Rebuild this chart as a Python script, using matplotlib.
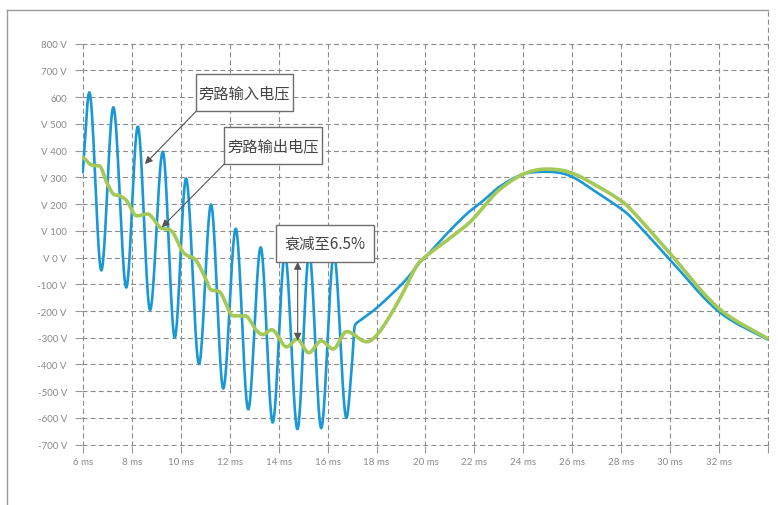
import numpy as np
import matplotlib
matplotlib.use("Agg")
import matplotlib.pyplot as plt
from matplotlib.lines import Line2D
from matplotlib.patches import Rectangle

plt.rcParams['font.family'] = ['Noto Sans CJK SC', 'DejaVu Sans']

# 旁路输入电压 (blue) (ms, V)
blue_t = [6.0, 6.27, 6.76, 7.25, 7.78, 8.25, 8.75, 9.27, 9.76, 10.22, 10.75,
          11.24, 11.74, 12.25, 12.76, 13.27, 13.76, 14.26, 14.77, 15.25, 15.74,
          16.26, 16.77, 16.98, 17.10, 17.17, 17.35, 17.87, 18.55, 19.23, 19.77,
          20.05, 20.86, 21.68, 22.36, 23.04, 23.99, 24.95, 25.90, 26.99, 27.95,
          28.36, 29.90, 31.94, 33.95]
blue_v = [319, 618, -48, 562, -112, 490, -196, 396, -299, 296, -398,
          198, -490, 108, -568, 38, -617, 13, -642, 17, -638,
          13, -600, -420, -262, -247, -234, -199, -143, -80, -18,
          7, 88, 163, 213, 266, 312, 321, 306, 244, 185,
          154, 1, -199, -306]

# 旁路输出电压 (green)
green_t = [6.02, 6.37, 6.68, 6.98, 7.25, 7.52, 7.80, 8.20, 8.65, 9.16, 9.65,
           10.11, 10.62, 11.06, 11.20, 11.61, 12.15, 12.63, 13.11, 13.35, 13.72,
           14.33, 14.76, 15.23, 15.74, 16.23, 16.78, 17.60, 18.01, 18.55, 19.09,
           19.64, 20.05, 20.86, 21.81, 22.36, 22.97, 23.99, 24.95, 25.90, 26.99,
           27.95, 28.36, 29.90, 31.94, 33.95]
green_v = [375, 346, 343, 281, 238, 231, 212, 156, 163, 113, 97,
           19, -10, -87, -118, -130, -218, -218, -274, -288, -270,
           -334, -305, -356, -312, -342, -277, -315, -290, -218, -130,
           -31, 7, 63, 132, 188, 250, 312, 331, 319, 269,
           215, 183, 25, -187, -302]

x_ticks = list(range(6, 35, 2))
x_labels = [f"{t} ms" for t in range(6, 33, 2)] + [""]
y_ticks = list(range(800, -701, -100))
y_labels = ["800 V", "700 V", "600", "V 500", "V 400", "V 300", "V 200", "V 100",
            "V 0 V", "-100 V", "-200 V", "-300 V", "-400 V", "-500 V", "-600 V", "-700 V"]


# smooth drawing of a curve through the read points (cubic Hermite,
# flat at turning points, limited slopes elsewhere)
def smooth(x, y, n=4000):
    x = np.asarray(x, float)
    y = np.asarray(y, float)
    h = np.diff(x)
    d = np.diff(y) / h
    m = np.zeros_like(y)
    for k in range(1, len(x) - 1):
        if d[k - 1] * d[k] > 0:
            c = (y[k + 1] - y[k - 1]) / (x[k + 1] - x[k - 1])
            lim = 3 * min(abs(d[k - 1]), abs(d[k]))
            m[k] = np.sign(c) * min(abs(c), lim)
    m[0] = d[0]
    m[-1] = d[-1]
    xs = np.linspace(x[0], x[-1], n)
    i = np.clip(np.searchsorted(x, xs) - 1, 0, len(h) - 1)
    s = (xs - x[i]) / h[i]
    ys = ((2 * s**3 - 3 * s**2 + 1) * y[i] + (s**3 - 2 * s**2 + s) * h[i] * m[i]
          + (-2 * s**3 + 3 * s**2) * y[i + 1] + (s**3 - s**2) * h[i] * m[i + 1])
    return xs, ys


fig = plt.figure(figsize=(7.78, 5.06), dpi=100)
ax = fig.add_axes([0.1057, 0.1166, 0.8824, 0.7976])

bx, by = smooth(blue_t, blue_v)
gx, gy = smooth(green_t, green_v)
ax.plot(bx, by, color='#1a98d5', lw=1.9, solid_capstyle='round', zorder=3)
ax.plot(gx, gy, color='#a5c956', lw=2.6, solid_capstyle='round', zorder=4)

ax.set_xlim(5.98, 34.02)
ax.set_ylim(-705, 805)
ax.set_xticks(x_ticks)
ax.set_xticklabels(x_labels)
ax.set_yticks(y_ticks)
ax.set_yticklabels(y_labels)
for s in ax.spines.values():
    s.set_visible(False)
ax.grid(True, color='#8c8c8c', lw=0.8, linestyle=(0, (4.5, 2.8)))
ax.tick_params(axis='both', length=5, width=0.8, color='#999999',
               labelsize=7, labelcolor='#8a8a8a')
ax.tick_params(axis='y', pad=6)
ax.tick_params(axis='x', pad=3)
for lab in ax.get_xticklabels() + ax.get_yticklabels():
    lab.set_family('Lato')

# dashed right edge up to the frame
ax.axvline(34, 0, 1.081, color='#8c8c8c', lw=0.8, linestyle=(0, (4.5, 2.8)), clip_on=False)

# outer frame (left and top)
fig.add_artist(Line2D([0.0094, 0.0094], [0, 0.9789], color='#9a9a9a', lw=1))
fig.add_artist(Line2D([0.0094, 0.987], [0.9789, 0.9789], color='#9a9a9a', lw=1))

# annotation boxes
boxes = [
    ("旁路输入电压", 10.63, 14.60, 547, 686, (10.63, 547), (8.54, 350)),
    ("旁路输出电压", 11.78, 15.76, 350, 489, (11.78, 350), (9.23, 113)),
]
for text, x0, x1, y0, y1, tail, tip in boxes:
    ax.add_patch(Rectangle((x0, y0), x1 - x0, y1 - y0, facecolor='white',
                           edgecolor='#6e6e6e', lw=1, zorder=6))
    ax.text((x0 + x1) / 2, (y0 + y1) / 2, text, ha='center', va='center',
            fontsize=11, color='#444444', zorder=7)
    ax.annotate("", xy=tip, xytext=tail,
                arrowprops=dict(arrowstyle='-|>', color='#555555', lw=0.8,
                                mutation_scale=11, shrinkA=0, shrinkB=0), zorder=6)

ax.add_patch(Rectangle((13.89, -16), 17.91 - 13.89, 122 + 16, facecolor='white',
                       edgecolor='#6e6e6e', lw=1, zorder=6))
ax.text((13.89 + 17.91) / 2, 53, "衰减至6.5%", ha='center', va='center',
        fontsize=11, color='#444444', zorder=7)
ax.annotate("", xy=(14.78, -311), xytext=(14.78, -16),
            arrowprops=dict(arrowstyle='<|-|>', color='#555555', lw=0.8,
                            mutation_scale=11, shrinkA=0, shrinkB=0), zorder=6)

fig.savefig("out.png", dpi=100)
